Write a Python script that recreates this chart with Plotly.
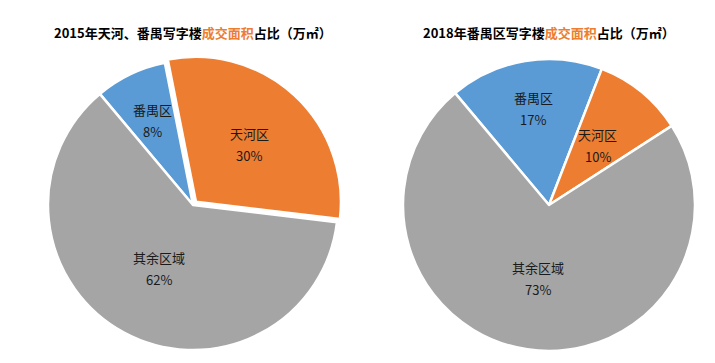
import math
import plotly.graph_objects as go

# Data
labels_2015 = ["番禺区", "天河区", "其余区域"]
values_2015 = [8, 30, 62]
labels_2018 = ["番禺区", "天河区", "其余区域"]
values_2018 = [17, 10, 73]
colors = ["#5B9BD5", "#ED7D31", "#A5A5A5"]

# Layout parameters (figure pixel coords; page body has an 8px offset)
W, H = 715, 363
OFF = 8
ROT = -40
pies = [
    dict(labels=labels_2015, values=values_2015, cx=193, cy=205, r=145, pull=[0, 0.03, 0],
         lab_k=[0.65, 0.54, 0.50],
         title="<b>2015年天河、番禺写字楼<span style='color:#ED7D31'>成交面积</span>占比（万㎡）</b>",
         tx=192.5),
    dict(labels=labels_2018, values=values_2018, cx=549, cy=205, r=146, pull=[0, 0, 0],
         lab_k=[0.67, 0.53, 0.51],
         title="<b>2018年番禺区写字楼<span style='color:#ED7D31'>成交面积</span>占比（万㎡）</b>",
         tx=548.5),
]


def px(x, y):
    return (x - OFF) / W, 1 - (y - OFF) / H


fig = go.Figure()
lab_font = dict(size=13, color="#1a1a1a", family="Noto Sans CJK SC")
for p in pies:
    mp = max(p["pull"])
    R = p["r"] * (1 + mp)
    x0, y1 = px(p["cx"] - R, p["cy"] - R)
    x1, y0 = px(p["cx"] + R, p["cy"] + R)
    fig.add_trace(go.Pie(
        labels=p["labels"], values=p["values"], sort=False, direction="clockwise",
        rotation=ROT, pull=p["pull"],
        marker=dict(colors=colors, line=dict(color="white", width=2.5)),
        textinfo="none", showlegend=False, hoverinfo="label+percent",
        domain=dict(x=[x0, x1], y=[y0, y1]),
    ))
    total = sum(p["values"])
    cum = 0
    for lab, v, k, pl in zip(p["labels"], p["values"], p["lab_k"], p["pull"]):
        th = math.radians(ROT + (cum + v / 2) / total * 360)
        cum += v
        rr = p["r"] * (k + pl)
        lx = p["cx"] + rr * math.sin(th)
        ly = p["cy"] - rr * math.cos(th)
        pct = f"{round(v / total * 100)}%"
        for txt, dy in ((lab, -11), (pct, 11)):
            ax, ay = px(lx, ly + dy)
            fig.add_annotation(text=txt, x=ax, y=ay, xref="paper", yref="paper",
                               showarrow=False, xanchor="center", yanchor="middle",
                               font=lab_font)
    tx, ty = px(p["tx"], 32)
    fig.add_annotation(text=p["title"], x=tx, y=ty, xref="paper", yref="paper",
                       showarrow=False, xanchor="center", yanchor="middle",
                       font=dict(size=13, color="#000000", family="Noto Sans CJK SC"))

fig.update_layout(
    width=W, height=H, margin=dict(l=0, r=0, t=0, b=0),
    paper_bgcolor="white", plot_bgcolor="white",
    font=dict(family="Noto Sans CJK SC"),
)
fig.write_html("out.html")
